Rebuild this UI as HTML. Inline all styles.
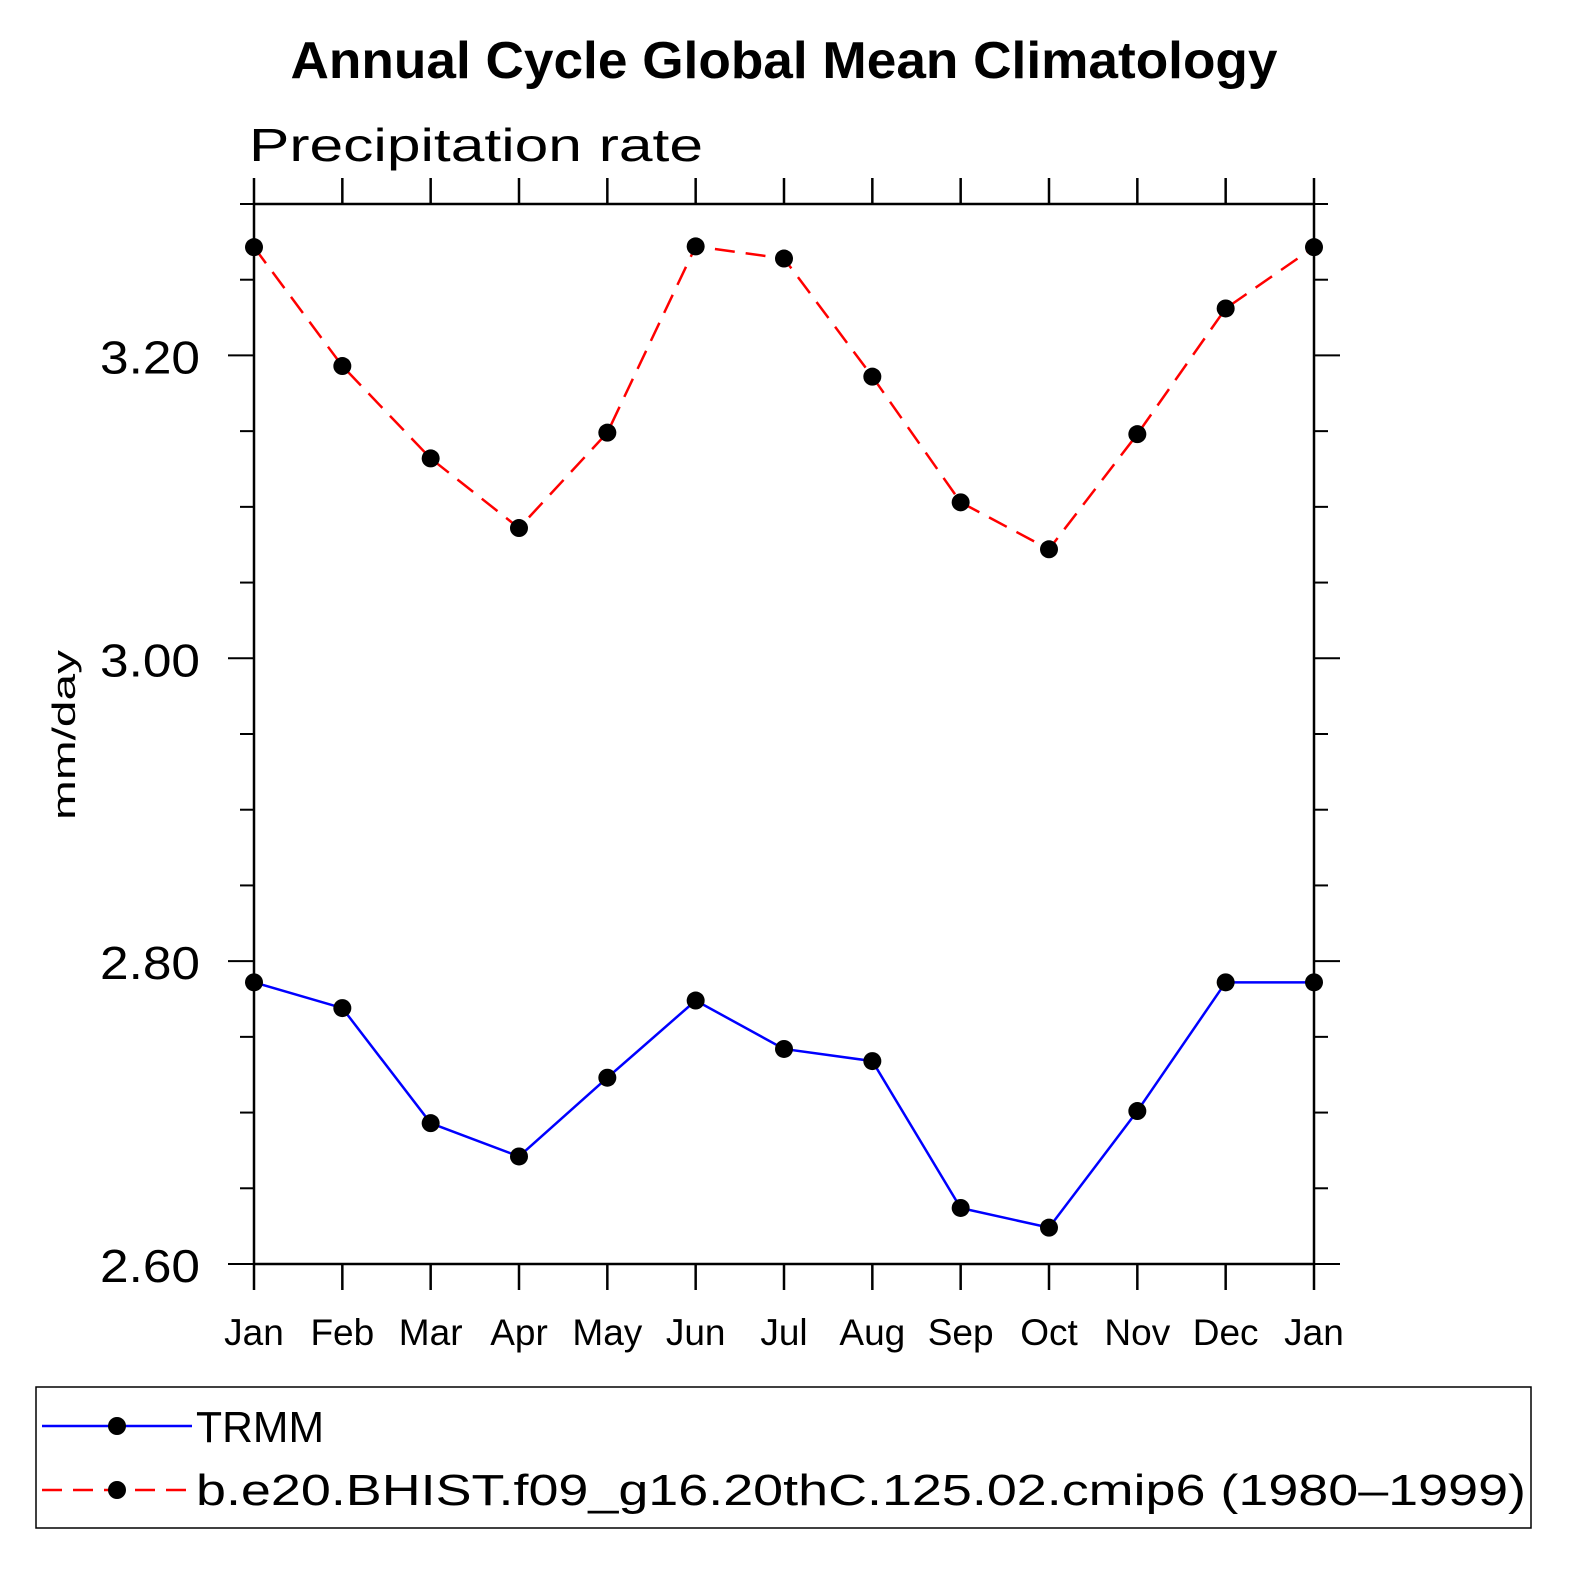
<!DOCTYPE html>
<html><head><meta charset="utf-8"><style>
html,body{margin:0;padding:0;background:#fff;overflow:hidden;width:1574px;height:1574px;}
svg{display:block;}
svg text{font-family:"Liberation Sans",sans-serif;}
</style></head><body>
<svg id="chart" width="1574" height="1574" xmlns="http://www.w3.org/2000/svg">
<text x="784" y="78" text-anchor="middle" font-size="52" font-weight="bold" textLength="987" lengthAdjust="spacingAndGlyphs">Annual Cycle Global Mean Climatology</text>
<text x="249" y="161" font-size="46" font-weight="300" textLength="454" lengthAdjust="spacingAndGlyphs">Precipitation rate</text>
<text transform="translate(75,735) rotate(-90)" text-anchor="middle" font-size="32" textLength="170" lengthAdjust="spacingAndGlyphs">mm/day</text>
<g id="axes"></g>
<g id="series"></g>
<rect x="36" y="1387" width="1495" height="141" fill="none" stroke="#000" stroke-width="1.5"/>
<g>
<line x1="42" y1="1426" x2="192" y2="1426" stroke="#00f" stroke-width="2.5"/>
<circle cx="117" cy="1426" r="9"/>
<text x="196" y="1442" font-size="44" textLength="128" lengthAdjust="spacingAndGlyphs">TRMM</text>
</g>
<g>
<line x1="42" y1="1490" x2="192" y2="1490" stroke="#f00" stroke-width="2.5" stroke-dasharray="20,11"/>
<circle cx="117" cy="1490" r="9"/>
<text x="196" y="1505" font-size="44" textLength="1330" lengthAdjust="spacingAndGlyphs">b.e20.BHIST.f09_g16.20thC.125.02.cmip6 (1980–1999)</text>
</g>
</svg>
<script>
const months=["Jan","Feb","Mar","Apr","May","Jun","Jul","Aug","Sep","Oct","Nov","Dec","Jan"];
const trmm=[2.786,2.769,2.693,2.671,2.723,2.774,2.742,2.734,2.637,2.624,2.701,2.786,2.786];
const model=[3.2715,3.193,3.132,3.086,3.149,3.272,3.264,3.186,3.103,3.072,3.148,3.231,3.2715];
const yTickLabels=["2.60","2.80","3.00","3.20"];
const yMin=2.6,yMax=3.3;
const L=254,R=1314,T=204,B=1264;
const NS="http://www.w3.org/2000/svg";
const xs=i=>L+(R-L)*i/(months.length-1);
const ys=v=>B-(v-yMin)/(yMax-yMin)*(B-T);
function mk(t,a,p){const e=document.createElementNS(NS,t);for(const k in a)e.setAttribute(k,a[k]);p.appendChild(e);return e;}
const ax=document.getElementById('axes');
const frame=mk('rect',{x:L,y:T,width:R-L,height:B-T,fill:'none',stroke:'#000','stroke-width':2.5},ax);


months.forEach((m,i)=>{const x=xs(i);
mk('line',{x1:x,y1:B,x2:x,y2:B+26,stroke:'#000','stroke-width':2.5},ax);
mk('line',{x1:x,y1:T,x2:x,y2:T-26,stroke:'#000','stroke-width':2.5},ax);
const t=mk('text',{x:x,y:B+81,'text-anchor':'middle','font-size':37},ax);t.textContent=m;


});
for(let k=0;k<=14;k++){const v=yMin+k*0.05;const y=ys(v);const major=k%4===0;const len=major?26:14;
mk('line',{x1:L,y1:y,x2:L-len,y2:y,stroke:'#000','stroke-width':2},ax);
mk('line',{x1:R,y1:y,x2:R+len,y2:y,stroke:'#000','stroke-width':2},ax);}
yTickLabels.forEach(s=>{const y=ys(parseFloat(s));const t=mk('text',{x:200,y:y+18,'text-anchor':'end','font-size':46,'font-weight':300,textLength:100,lengthAdjust:'spacingAndGlyphs'},ax);t.textContent=s;


});
const sg=document.getElementById('series');
function series(d,color,dash,name){
const p=mk('polyline',{points:d.map((v,i)=>xs(i)+','+ys(v)).join(' '),fill:'none',stroke:color,'stroke-width':2.5,'stroke-dasharray':dash},sg);


d.forEach((v,i)=>{const c=mk('circle',{cx:xs(i),cy:ys(v),r:9,fill:'#000'},sg);

});
}
series(trmm,'#00f','none','trmm');
series(model,'#f00','20,11','model');
</script>
</body></html>
